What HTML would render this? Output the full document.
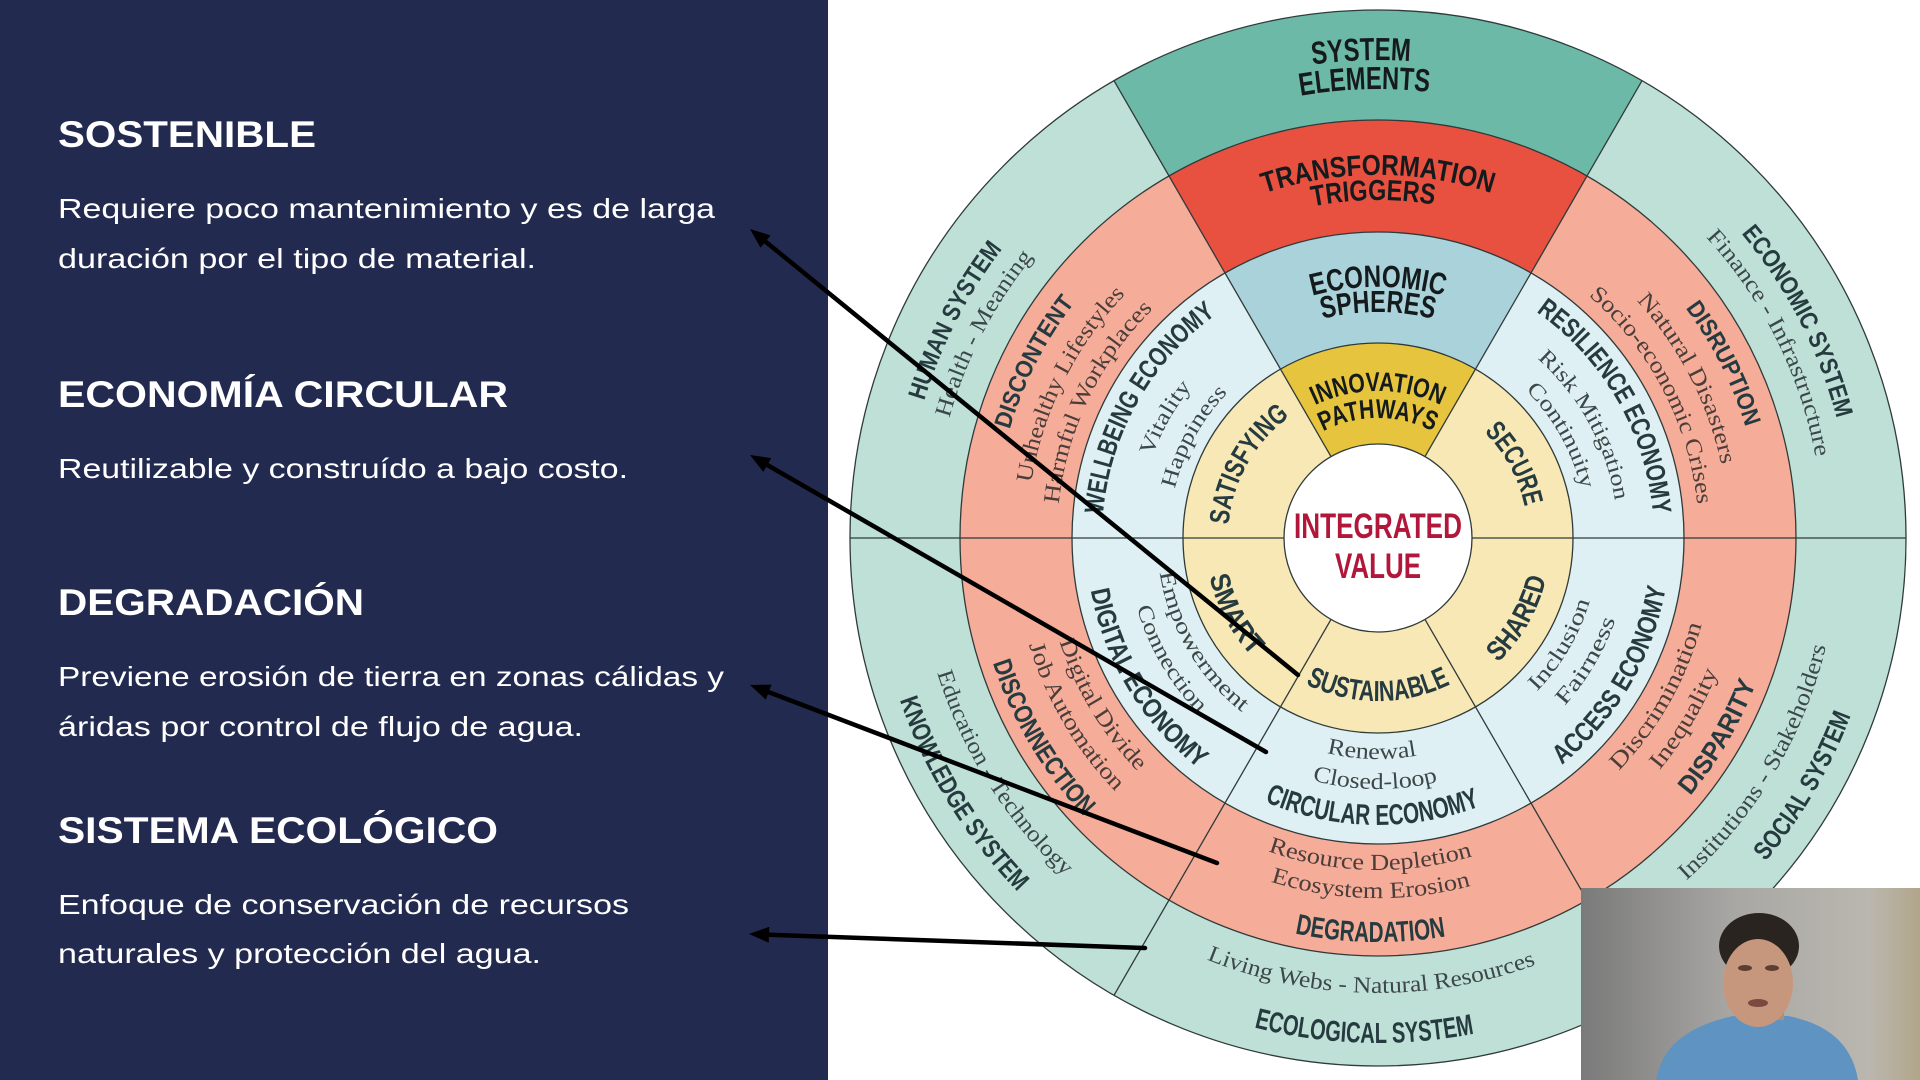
<!DOCTYPE html>
<html><head><meta charset="utf-8"><style>
html,body{margin:0;padding:0;background:#fff;}
svg{display:block}
.b{font-family:"Liberation Sans",Arial,sans-serif;font-weight:700;fill:#263b3f;text-anchor:middle}
.k{font-family:"Liberation Sans",Arial,sans-serif;font-weight:700;fill:#151b1c;text-anchor:middle}
.s{font-family:"Liberation Serif","Times New Roman",serif;fill:#3c4747;text-anchor:middle}
.sr{font-family:"Liberation Serif","Times New Roman",serif;fill:#4a3d3a;text-anchor:middle}
.w{font-family:"Liberation Sans",Arial,sans-serif;fill:#ffffff}
.wb{font-family:"Liberation Sans",Arial,sans-serif;font-weight:700;fill:#ffffff}
</style></head><body>
<svg width="1920" height="1080" viewBox="0 0 1920 1080" xmlns="http://www.w3.org/2000/svg">
<defs>
<path id="u478" d="M964.1 299 A478 478 0 0 1 1791.9 299"/>
<path id="u449" d="M989.2 313.5 A449 449 0 0 1 1766.8 313.5"/>
<path id="u363" d="M1063.6 356.5 A363 363 0 0 1 1692.4 356.5"/>
<path id="u338" d="M1085.3 369 A338 338 0 0 1 1670.7 369"/>
<path id="u251" d="M1160.6 412.5 A251 251 0 0 1 1595.4 412.5"/>
<path id="u226" d="M1182.3 425 A226 226 0 0 1 1573.7 425"/>
<path id="u147" d="M1250.7 464.5 A147 147 0 0 1 1505.3 464.5"/>
<path id="u120" d="M1274.1 478 A120 120 0 0 1 1481.9 478"/>
<path id="u474" d="M967.5 301 A474 474 0 0 1 1788.5 301"/>
<path id="u445" d="M992.6 315.5 A445 445 0 0 1 1763.4 315.5"/>
<path id="u384" d="M1045.5 346 A384 384 0 0 1 1710.5 346"/>
<path id="u351" d="M1074 362.5 A351 351 0 0 1 1682 362.5"/>
<path id="u321" d="M1100 377.5 A321 321 0 0 1 1656 377.5"/>
<path id="u276" d="M1139 400 A276 276 0 0 1 1617 400"/>
<path id="u240" d="M1170.2 418 A240 240 0 0 1 1585.8 418"/>
<path id="u209" d="M1197 433.5 A209 209 0 0 1 1559 433.5"/>
<path id="u150" d="M1248.1 463 A150 150 0 0 1 1507.9 463"/>
<path id="l163" d="M1236.8 619.5 A163 163 0 0 0 1519.2 619.5"/>
<path id="l173" d="M1228.2 624.5 A173 173 0 0 0 1527.8 624.5"/>
<path id="l221" d="M1186.6 648.5 A221 221 0 0 0 1569.4 648.5"/>
<path id="l251" d="M1160.6 663.5 A251 251 0 0 0 1595.4 663.5"/>
<path id="l287" d="M1129.5 681.5 A287 287 0 0 0 1626.5 681.5"/>
<path id="l292" d="M1125.1 684 A292 292 0 0 0 1630.9 684"/>
<path id="l332" d="M1090.5 704 A332 332 0 0 0 1665.5 704"/>
<path id="l335" d="M1087.9 705.5 A335 335 0 0 0 1668.1 705.5"/>
<path id="l360" d="M1066.2 718 A360 360 0 0 0 1689.8 718"/>
<path id="l365" d="M1061.9 720.5 A365 365 0 0 0 1694.1 720.5"/>
<path id="l404" d="M1028.1 740 A404 404 0 0 0 1727.9 740"/>
<path id="l405" d="M1027.3 740.5 A405 405 0 0 0 1728.7 740.5"/>
<path id="l455" d="M984 765.5 A455 455 0 0 0 1772 765.5"/>
<path id="l461" d="M978.8 768.5 A461 461 0 0 0 1777.2 768.5"/>
<path id="l505" d="M940.7 790.5 A505 505 0 0 0 1815.3 790.5"/>
<linearGradient id="wc" x1="0" y1="0" x2="1" y2="0">
<stop offset="0" stop-color="#7a7a7a"/>
<stop offset="0.45" stop-color="#a8a7a4"/>
<stop offset="0.85" stop-color="#bab7af"/>
<stop offset="1" stop-color="#b1a68a"/>
</linearGradient>
</defs>

<!-- left panel -->
<rect x="0" y="0" width="828" height="1080" fill="#232a4f"/>
<text class="wb" x="58" y="147" font-size="37" textLength="258" lengthAdjust="spacingAndGlyphs">SOSTENIBLE</text>
<text class="w" x="58" y="218" font-size="28" textLength="657" lengthAdjust="spacingAndGlyphs">Requiere poco mantenimiento y es de larga</text>
<text class="w" x="58" y="268" font-size="28" textLength="478" lengthAdjust="spacingAndGlyphs">duración por el tipo de material.</text>
<text class="wb" x="58" y="407" font-size="37" textLength="450" lengthAdjust="spacingAndGlyphs">ECONOMÍA CIRCULAR</text>
<text class="w" x="58" y="478" font-size="28" textLength="570" lengthAdjust="spacingAndGlyphs">Reutilizable y construído a bajo costo.</text>
<text class="wb" x="58" y="615" font-size="37" textLength="306" lengthAdjust="spacingAndGlyphs">DEGRADACIÓN</text>
<text class="w" x="58" y="686" font-size="28" textLength="666" lengthAdjust="spacingAndGlyphs">Previene erosión de tierra en zonas cálidas y</text>
<text class="w" x="58" y="736" font-size="28" textLength="525" lengthAdjust="spacingAndGlyphs">áridas por control de flujo de agua.</text>
<text class="wb" x="58" y="843" font-size="37" textLength="440" lengthAdjust="spacingAndGlyphs">SISTEMA ECOLÓGICO</text>
<text class="w" x="58" y="914" font-size="28" textLength="571" lengthAdjust="spacingAndGlyphs">Enfoque de conservación de recursos</text>
<text class="w" x="58" y="963" font-size="28" textLength="483" lengthAdjust="spacingAndGlyphs">naturales y protección del agua.</text>

<!-- rings -->
<circle cx="1378" cy="538" r="528" fill="#bfe0d7"/>
<circle cx="1378" cy="538" r="418" fill="#f5ac98"/>
<circle cx="1378" cy="538" r="306" fill="#dff0f4"/>
<circle cx="1378" cy="538" r="195" fill="#f8e8b5"/>
<!-- top wedges -->
<path d="M1114 80.7 A528 528 0 0 1 1642 80.7 L1587 176 A418 418 0 0 0 1169 176 Z" fill="#6cb9a7"/>
<path d="M1169 176 A418 418 0 0 1 1587 176 L1531 273 A306 306 0 0 0 1225 273 Z" fill="#e8503f"/>
<path d="M1225 273 A306 306 0 0 1 1531 273 L1475.5 369.1 A195 195 0 0 0 1280.5 369.1 Z" fill="#a9d2da"/>
<path d="M1280.5 369.1 A195 195 0 0 1 1475.5 369.1 L1425 456.6 A94 94 0 0 0 1331 456.6 Z" fill="#e7c43d"/>
<circle cx="1378" cy="538" r="94" fill="#ffffff"/>
<g fill="none" stroke="#2f3a3a" stroke-width="1.3">
<circle cx="1378" cy="538" r="528"/>
<circle cx="1378" cy="538" r="418"/>
<circle cx="1378" cy="538" r="306"/>
<circle cx="1378" cy="538" r="195"/>
<circle cx="1378" cy="538" r="94"/>
<line x1="1425" y1="456.6" x2="1642" y2="80.7"/>
<line x1="1331" y1="456.6" x2="1114" y2="80.7"/>
<line x1="1425" y1="619.4" x2="1642" y2="995.3"/>
<line x1="1331" y1="619.4" x2="1114" y2="995.3"/>
<line x1="1472" y1="538" x2="1906" y2="538"/>
<line x1="1284" y1="538" x2="850" y2="538"/>
</g>

<!-- top sector -->
<g transform="rotate(-2 1378 538)"><text class="k" font-size="32"><textPath href="#u478" startOffset="50%" textLength="98" lengthAdjust="spacingAndGlyphs">SYSTEM</textPath></text></g>
<g transform="rotate(-1.7 1378 538)"><text class="k" font-size="32"><textPath href="#u449" startOffset="50%" textLength="129" lengthAdjust="spacingAndGlyphs">ELEMENTS</textPath></text></g>
<text class="k" font-size="29"><textPath href="#u363" startOffset="50%" textLength="231" lengthAdjust="spacingAndGlyphs">TRANSFORMATION</textPath></text>
<g transform="rotate(-0.8 1378 538)"><text class="k" font-size="29"><textPath href="#u338" startOffset="50%" textLength="122" lengthAdjust="spacingAndGlyphs">TRIGGERS</textPath></text></g>
<text class="k" font-size="31"><textPath href="#u251" startOffset="50%" textLength="133" lengthAdjust="spacingAndGlyphs">ECONOMIC</textPath></text>
<text class="k" font-size="31"><textPath href="#u226" startOffset="50%" textLength="112" lengthAdjust="spacingAndGlyphs">SPHERES</textPath></text>
<text class="k" font-size="27"><textPath href="#u147" startOffset="50%" textLength="130" lengthAdjust="spacingAndGlyphs">INNOVATION</textPath></text>
<text class="k" font-size="27"><textPath href="#u120" startOffset="50%" textLength="114" lengthAdjust="spacingAndGlyphs">PATHWAYS</textPath></text>

<!-- upper left -->
<g transform="rotate(-62.8 1378 538)"><text class="b" font-size="25"><textPath href="#u474" startOffset="50%" textLength="172" lengthAdjust="spacingAndGlyphs">HUMAN SYSTEM</textPath></text></g>
<g transform="rotate(-62.6 1378 538)"><text class="s" font-size="23"><textPath href="#u445" startOffset="50%" textLength="183" lengthAdjust="spacingAndGlyphs">Health - Meaning</textPath></text></g>
<g transform="rotate(-62.9 1378 538)"><text class="b" font-size="24"><textPath href="#u384" startOffset="50%" textLength="143" lengthAdjust="spacingAndGlyphs">DISCONTENT</textPath></text></g>
<g transform="rotate(-63.5 1378 538)"><text class="sr" font-size="23"><textPath href="#u351" startOffset="50%" textLength="214" lengthAdjust="spacingAndGlyphs">Unhealthy Lifestyles</textPath></text></g>
<g transform="rotate(-64.2 1378 538)"><text class="sr" font-size="23"><textPath href="#u321" startOffset="50%" textLength="221" lengthAdjust="spacingAndGlyphs">Harmful Workplaces</textPath></text></g>
<g transform="rotate(-60.5 1378 538)"><text class="b" font-size="27"><textPath href="#u276" startOffset="50%" textLength="236" lengthAdjust="spacingAndGlyphs">WELLBEING ECONOMY</textPath></text></g>
<g transform="rotate(-60.5 1378 538)"><text class="s" font-size="22"><textPath href="#u240" startOffset="50%" textLength="80" lengthAdjust="spacingAndGlyphs">Vitality</textPath></text></g>
<g transform="rotate(-61.2 1378 538)"><text class="s" font-size="22"><textPath href="#u209" startOffset="50%" textLength="111" lengthAdjust="spacingAndGlyphs">Happiness</textPath></text></g>
<g transform="rotate(-60.5 1378 538)"><text class="b" font-size="28"><textPath href="#u150" startOffset="50%" textLength="128" lengthAdjust="spacingAndGlyphs">SATISFYING</textPath></text></g>

<!-- upper right -->
<g transform="rotate(62.7 1378 538)"><text class="b" font-size="25"><textPath href="#u474" startOffset="50%" textLength="210" lengthAdjust="spacingAndGlyphs">ECONOMIC SYSTEM</textPath></text></g>
<g transform="rotate(63.5 1378 538)"><text class="s" font-size="23"><textPath href="#u445" startOffset="50%" textLength="249" lengthAdjust="spacingAndGlyphs">Finance - Infrastructure</textPath></text></g>
<g transform="rotate(63.2 1378 538)"><text class="b" font-size="24"><textPath href="#u384" startOffset="50%" textLength="134" lengthAdjust="spacingAndGlyphs">DISRUPTION</textPath></text></g>
<g transform="rotate(62.7 1378 538)"><text class="sr" font-size="23"><textPath href="#u351" startOffset="50%" textLength="187" lengthAdjust="spacingAndGlyphs">Natural Disasters</textPath></text></g>
<g transform="rotate(62.5 1378 538)"><text class="sr" font-size="23"><textPath href="#u321" startOffset="50%" textLength="241" lengthAdjust="spacingAndGlyphs">Socio-economic Crises</textPath></text></g>
<g transform="rotate(60 1378 538)"><text class="b" font-size="27"><textPath href="#u276" startOffset="50%" textLength="241" lengthAdjust="spacingAndGlyphs">RESILIENCE ECONOMY</textPath></text></g>
<g transform="rotate(61.3 1378 538)"><text class="s" font-size="22"><textPath href="#u240" startOffset="50%" textLength="165" lengthAdjust="spacingAndGlyphs">Risk Mitigation</textPath></text></g>
<g transform="rotate(60.7 1378 538)"><text class="s" font-size="22"><textPath href="#u209" startOffset="50%" textLength="115" lengthAdjust="spacingAndGlyphs">Continuity</textPath></text></g>
<g transform="rotate(61.5 1378 538)"><text class="b" font-size="28"><textPath href="#u150" startOffset="50%" textLength="86" lengthAdjust="spacingAndGlyphs">SECURE</textPath></text></g>

<!-- bottom -->
<text class="b" font-size="29"><textPath href="#l163" startOffset="50%" textLength="150" lengthAdjust="spacingAndGlyphs">SUSTAINABLE</textPath></text>
<g transform="rotate(1.6 1378 538)"><text class="s" font-size="23"><textPath href="#l221" startOffset="50%" textLength="91" lengthAdjust="spacingAndGlyphs">Renewal</textPath></text></g>
<g transform="rotate(0.7 1378 538)"><text class="s" font-size="23"><textPath href="#l251" startOffset="50%" textLength="127" lengthAdjust="spacingAndGlyphs">Closed-loop</textPath></text></g>
<g transform="rotate(1.2 1378 538)"><text class="b" font-size="29"><textPath href="#l287" startOffset="50%" textLength="221" lengthAdjust="spacingAndGlyphs">CIRCULAR ECONOMY</textPath></text></g>
<g transform="rotate(1.4 1378 538)"><text class="sr" font-size="23"><textPath href="#l332" startOffset="50%" textLength="208" lengthAdjust="spacingAndGlyphs">Resource Depletion</textPath></text></g>
<g transform="rotate(1.2 1378 538)"><text class="sr" font-size="23"><textPath href="#l360" startOffset="50%" textLength="203" lengthAdjust="spacingAndGlyphs">Ecosystem Erosion</textPath></text></g>
<g transform="rotate(1.1 1378 538)"><text class="b" font-size="29"><textPath href="#l404" startOffset="50%" textLength="152" lengthAdjust="spacingAndGlyphs">DEGRADATION</textPath></text></g>
<g transform="rotate(0.9 1378 538)"><text class="s" font-size="23"><textPath href="#l455" startOffset="50%" textLength="337" lengthAdjust="spacingAndGlyphs">Living Webs - Natural Resources</textPath></text></g>
<g transform="rotate(1.6 1378 538)"><text class="b" font-size="29"><textPath href="#l505" startOffset="50%" textLength="222" lengthAdjust="spacingAndGlyphs">ECOLOGICAL SYSTEM</textPath></text></g>

<!-- lower right -->
<g transform="rotate(-60.2 1378 538)"><text class="b" font-size="28"><textPath href="#l173" startOffset="50%" textLength="98" lengthAdjust="spacingAndGlyphs">SHARED</textPath></text></g>
<g transform="rotate(-59.7 1378 538)"><text class="s" font-size="22"><textPath href="#l221" startOffset="50%" textLength="106" lengthAdjust="spacingAndGlyphs">Inclusion</textPath></text></g>
<g transform="rotate(-59.5 1378 538)"><text class="s" font-size="22"><textPath href="#l251" startOffset="50%" textLength="101" lengthAdjust="spacingAndGlyphs">Fairness</textPath></text></g>
<g transform="rotate(-59.6 1378 538)"><text class="b" font-size="27"><textPath href="#l292" startOffset="50%" textLength="210" lengthAdjust="spacingAndGlyphs">ACCESS ECONOMY</textPath></text></g>
<g transform="rotate(-60.5 1378 538)"><text class="sr" font-size="23"><textPath href="#l335" startOffset="50%" textLength="170" lengthAdjust="spacingAndGlyphs">Discrimination</textPath></text></g>
<g transform="rotate(-59.5 1378 538)"><text class="sr" font-size="23"><textPath href="#l365" startOffset="50%" textLength="115" lengthAdjust="spacingAndGlyphs">Inequality</textPath></text></g>
<g transform="rotate(-59.7 1378 538)"><text class="b" font-size="26"><textPath href="#l405" startOffset="50%" textLength="131" lengthAdjust="spacingAndGlyphs">DISPARITY</textPath></text></g>
<g transform="rotate(-59.2 1378 538)"><text class="s" font-size="23"><textPath href="#l461" startOffset="50%" textLength="277" lengthAdjust="spacingAndGlyphs">Institutions - Stakeholders</textPath></text></g>
<g transform="rotate(-59.8 1378 538)"><text class="b" font-size="26"><textPath href="#l505" startOffset="50%" textLength="170" lengthAdjust="spacingAndGlyphs">SOCIAL SYSTEM</textPath></text></g>

<!-- lower left -->
<g transform="rotate(62 1378 538)"><text class="b" font-size="28"><textPath href="#l173" startOffset="50%" textLength="91" lengthAdjust="spacingAndGlyphs">SMART</textPath></text></g>
<g transform="rotate(59.5 1378 538)"><text class="s" font-size="22"><textPath href="#l221" startOffset="50%" textLength="166" lengthAdjust="spacingAndGlyphs">Empowerment</textPath></text></g>
<g transform="rotate(59.8 1378 538)"><text class="s" font-size="22"><textPath href="#l251" startOffset="50%" textLength="124" lengthAdjust="spacingAndGlyphs">Connection</textPath></text></g>
<g transform="rotate(58.8 1378 538)"><text class="b" font-size="27"><textPath href="#l292" startOffset="50%" textLength="213" lengthAdjust="spacingAndGlyphs">DIGITAL ECONOMY</textPath></text></g>
<g transform="rotate(58.9 1378 538)"><text class="sr" font-size="23"><textPath href="#l335" startOffset="50%" textLength="153" lengthAdjust="spacingAndGlyphs">Digital Divide</textPath></text></g>
<g transform="rotate(59.5 1378 538)"><text class="sr" font-size="23"><textPath href="#l365" startOffset="50%" textLength="172" lengthAdjust="spacingAndGlyphs">Job Automation</textPath></text></g>
<g transform="rotate(59.3 1378 538)"><text class="b" font-size="26"><textPath href="#l405" startOffset="50%" textLength="180" lengthAdjust="spacingAndGlyphs">DISCONNECTION</textPath></text></g>
<g transform="rotate(57.9 1378 538)"><text class="s" font-size="23"><textPath href="#l461" startOffset="50%" textLength="243" lengthAdjust="spacingAndGlyphs">Education - Technology</textPath></text></g>
<g transform="rotate(58.4 1378 538)"><text class="b" font-size="26"><textPath href="#l505" startOffset="50%" textLength="227" lengthAdjust="spacingAndGlyphs">KNOWLEDGE SYSTEM</textPath></text></g>

<!-- center -->
<text x="1378" y="538" font-family="Liberation Sans, Arial, sans-serif" font-weight="700" font-size="35" fill="#b1173b" text-anchor="middle" textLength="168" lengthAdjust="spacingAndGlyphs">INTEGRATED</text>
<text x="1378" y="578" font-family="Liberation Sans, Arial, sans-serif" font-weight="700" font-size="35" fill="#b1173b" text-anchor="middle" textLength="86" lengthAdjust="spacingAndGlyphs">VALUE</text>

<!-- arrows -->
<g stroke="#000" stroke-width="4.5" stroke-linecap="round" fill="none">
<line x1="1298" y1="675" x2="765.5" y2="241.6"/>
<line x1="1266" y1="752" x2="767.3" y2="465"/>
<line x1="1217" y1="863" x2="768.7" y2="692.1"/>
<line x1="1145" y1="948" x2="769" y2="934.7"/>
</g>
<g fill="#000">
<polygon points="750,229 770.6,235.4 760.5,247.8"/>
<polygon points="750,455 771.3,458.1 763.3,471.9"/>
<polygon points="750,685 771.5,684.6 765.8,699.6"/>
<polygon points="749,934 769.3,926.7 768.7,942.7"/>
</g>

<!-- webcam -->
<rect x="1581" y="888" width="339" height="192" fill="url(#wc)"/>
<path d="M1656 1080 C1662 1046 1688 1026 1733 1016 L1788 1016 C1828 1024 1852 1044 1858 1080 Z" fill="#5f93c1"/>
<rect x="1738" y="996" width="46" height="24" fill="#b98a70"/>
<ellipse cx="1759" cy="946" rx="40" ry="33" fill="#2a2420"/>
<ellipse cx="1758" cy="983" rx="35" ry="44" fill="#c7977d"/>
<ellipse cx="1745" cy="968" rx="7" ry="3" fill="#5a3f32"/>
<ellipse cx="1772" cy="968" rx="7" ry="3" fill="#5a3f32"/>
<ellipse cx="1758" cy="1003" rx="10" ry="4" fill="#7a4a40"/>
</svg>
</body></html>
